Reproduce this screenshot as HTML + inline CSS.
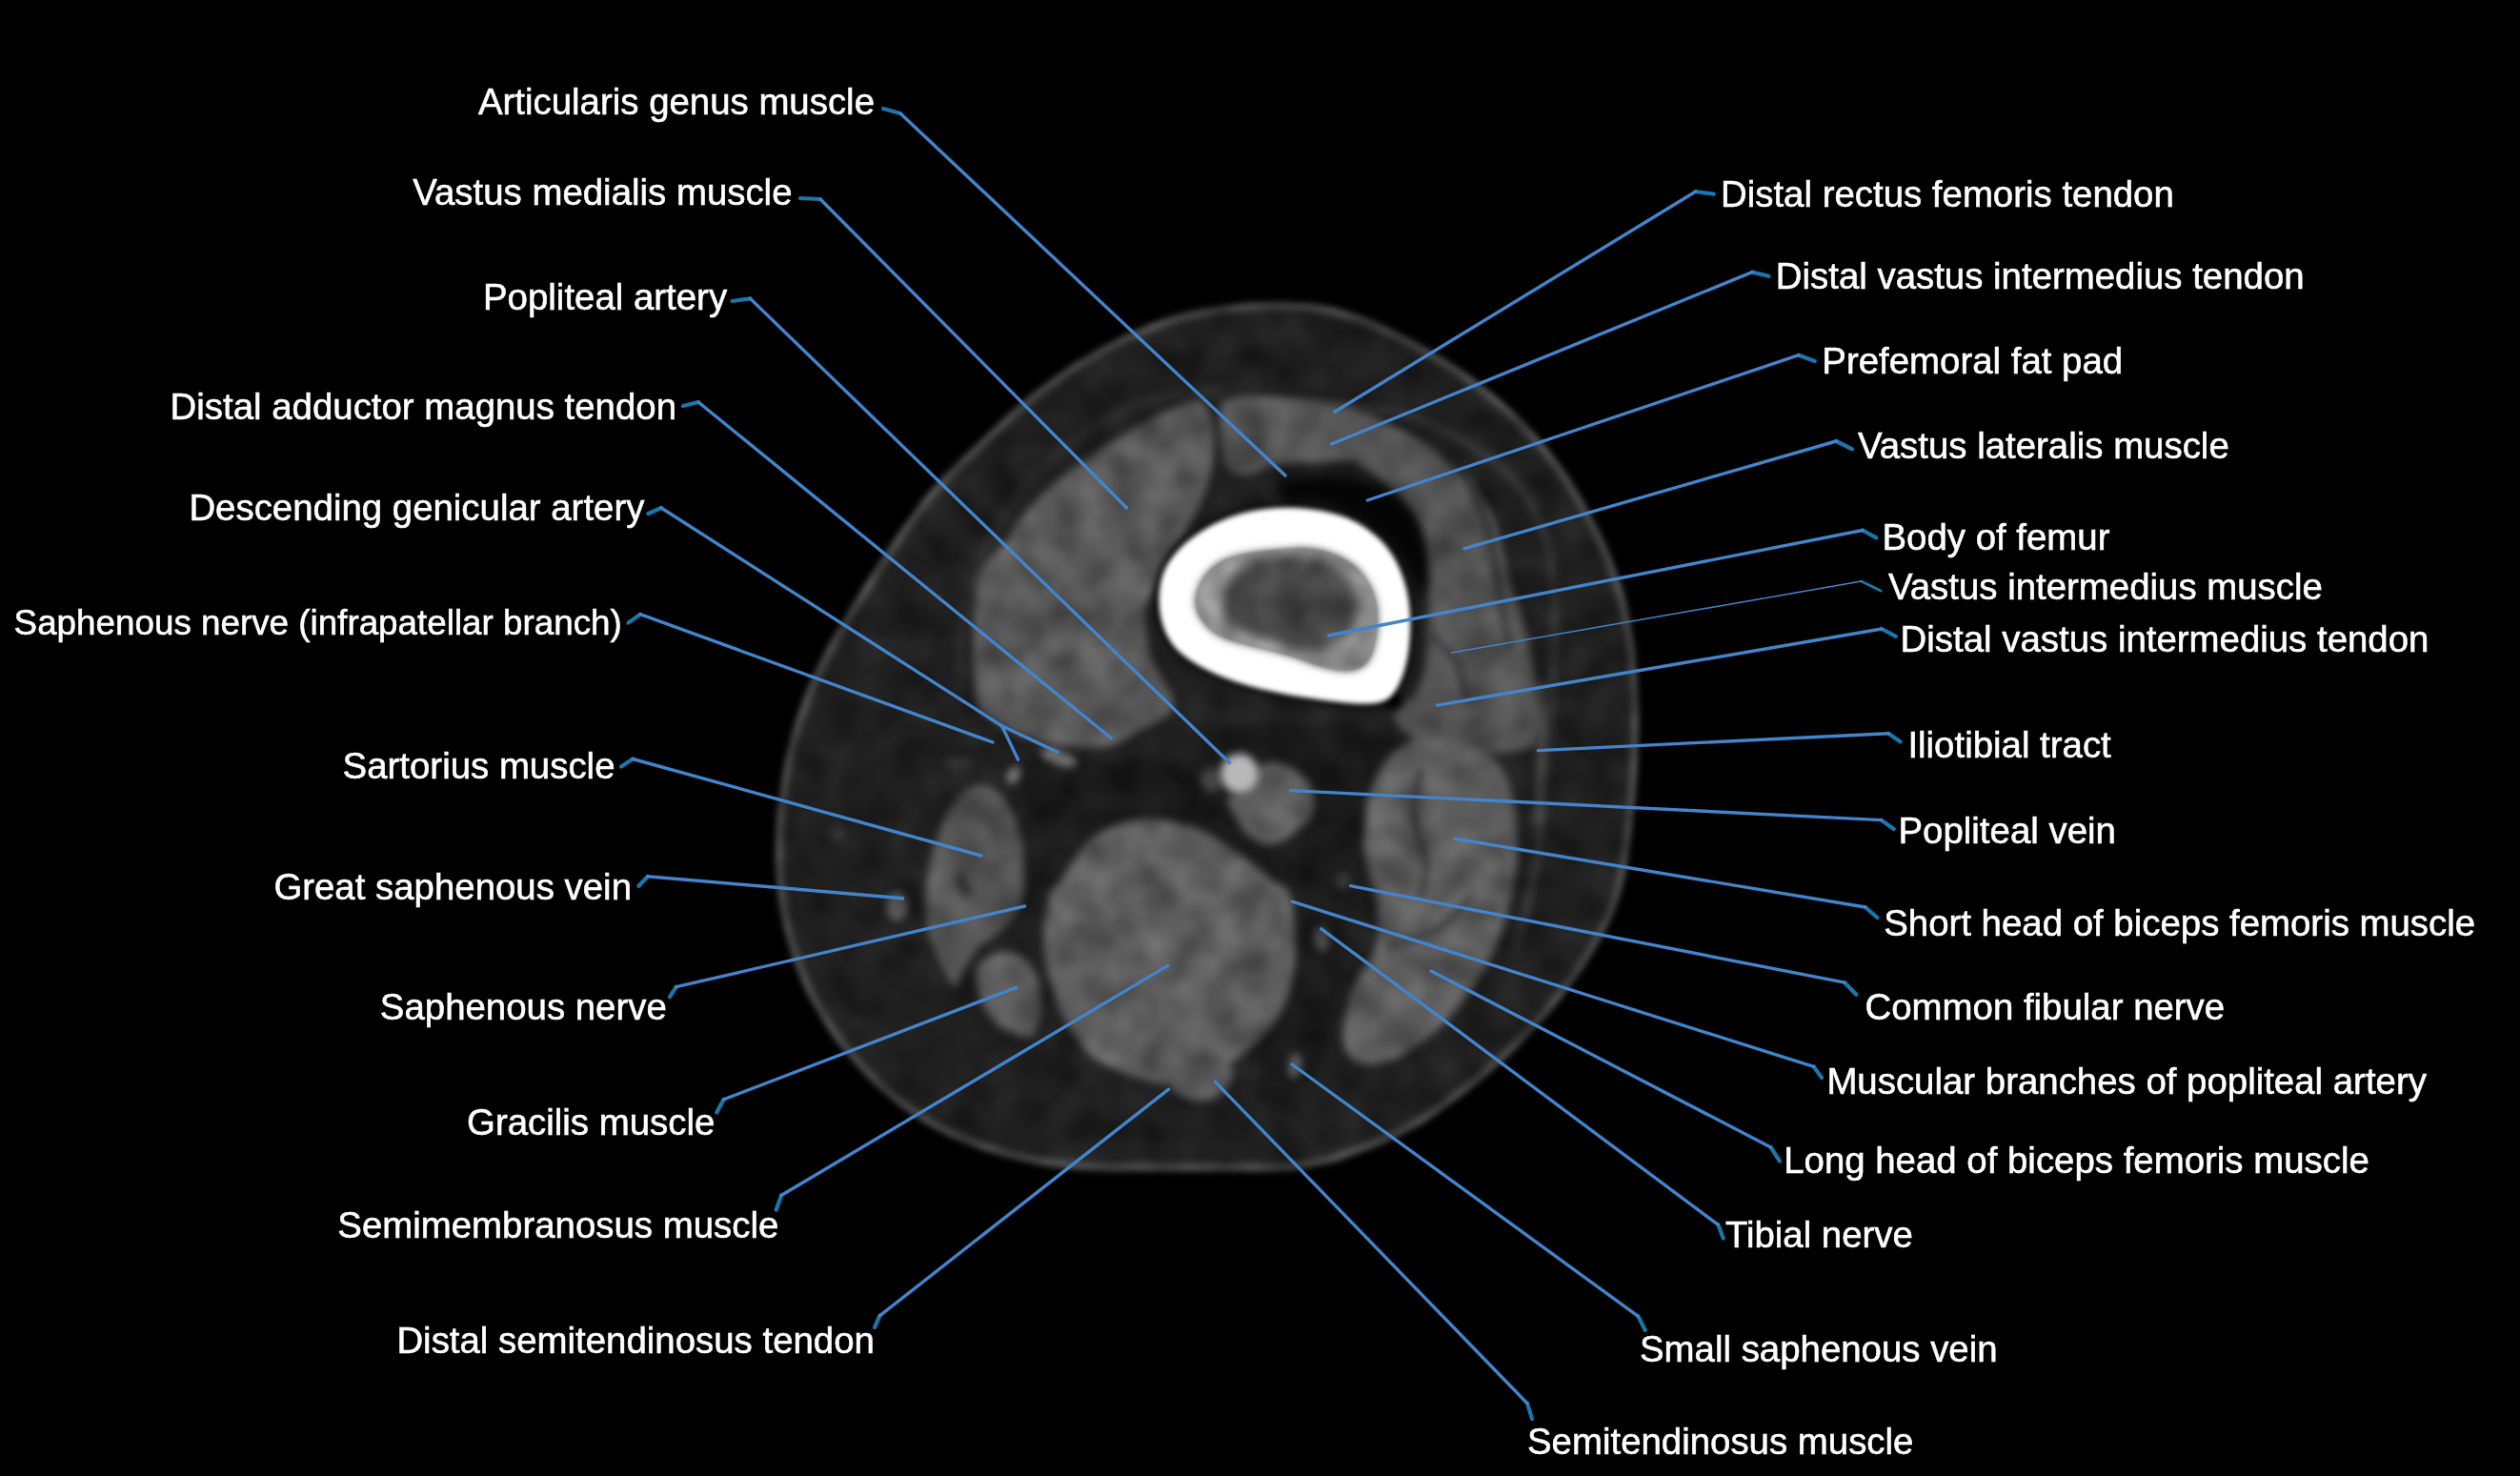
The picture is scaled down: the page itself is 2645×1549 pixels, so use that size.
<!DOCTYPE html>
<html><head><meta charset="utf-8"><title>Axial CT of distal thigh - labeled</title>
<style>
html,body{margin:0;padding:0;background:#000;}
body{width:2645px;height:1549px;position:relative;font-family:"Liberation Sans",sans-serif;}
svg{display:block;position:absolute;left:0;top:0;overflow:hidden;}
text{font-family:"Liberation Sans",sans-serif;fill:#fff;stroke:#fff;stroke-width:0.55px;}
</style></head>
<body>
<svg width="2645" height="1549" viewBox="0 0 2645 1549">
<defs>
<filter id="b1" filterUnits="userSpaceOnUse" x="700" y="250" width="1150" height="1050" color-interpolation-filters="sRGB"><feGaussianBlur stdDeviation="2.6"/></filter>
<filter id="b2" filterUnits="userSpaceOnUse" x="700" y="250" width="1150" height="1050" color-interpolation-filters="sRGB"><feGaussianBlur stdDeviation="4.5"/></filter>
<filter id="tex" filterUnits="userSpaceOnUse" x="750" y="280" width="1050" height="1000" color-interpolation-filters="sRGB">
<feTurbulence type="fractalNoise" baseFrequency="0.03" numOctaves="2" seed="7" result="n0"/>
<feColorMatrix in="n0" type="matrix" values="1 0 0 0 0  1 0 0 0 0  1 0 0 0 0  0 0 0 0 1" result="n1"/>
<feGaussianBlur in="n1" stdDeviation="4" result="n"/>
<feComposite in="SourceGraphic" in2="n" operator="arithmetic" k1="0.7" k2="0.65" k3="0.05" k4="-0.025" result="m"/>
<feComposite in="m" in2="SourceGraphic" operator="in"/>
</filter>
<filter id="tex2" filterUnits="userSpaceOnUse" x="1150" y="480" width="400" height="320" color-interpolation-filters="sRGB">
<feTurbulence type="fractalNoise" baseFrequency="0.032" numOctaves="2" seed="11" result="n0"/>
<feColorMatrix in="n0" type="matrix" values="1 0 0 0 0  1 0 0 0 0  1 0 0 0 0  0 0 0 0 1" result="n1"/>
<feGaussianBlur in="n1" stdDeviation="4" result="n"/>
<feComposite in="SourceGraphic" in2="n" operator="arithmetic" k1="1.0" k2="0.5" k3="0" k4="0" result="m"/>
<feComposite in="m" in2="SourceGraphic" operator="in"/>
</filter>
<filter id="b3" filterUnits="userSpaceOnUse" x="700" y="250" width="1150" height="1050" color-interpolation-filters="sRGB"><feGaussianBlur stdDeviation="6"/></filter>
<filter id="b4" filterUnits="userSpaceOnUse" x="700" y="250" width="1150" height="1050" color-interpolation-filters="sRGB"><feGaussianBlur stdDeviation="10"/></filter>
<clipPath id="bodyclip"><path d="M1324.6,304.8C1328.7,304.6 1332.9,304.5 1337.0,304.4C1341.1,304.3 1345.2,304.3 1349.4,304.3C1353.5,304.4 1357.6,304.6 1361.8,304.9C1365.9,305.2 1370.0,305.6 1374.2,306.1C1378.3,306.6 1382.4,307.1 1386.5,307.7C1390.6,308.4 1394.7,309.2 1398.8,310.1C1402.8,311.0 1406.9,312.0 1410.9,313.2C1414.9,314.3 1418.9,315.6 1422.8,316.9C1426.7,318.3 1430.6,319.7 1434.5,321.2C1438.4,322.7 1442.2,324.2 1446.0,325.8C1449.8,327.4 1453.5,329.0 1457.3,330.8C1461.0,332.5 1464.7,334.3 1468.4,336.1C1472.1,337.9 1475.7,339.7 1479.4,341.6C1483.0,343.5 1486.6,345.4 1490.2,347.3C1493.8,349.3 1497.4,351.3 1500.9,353.3C1504.5,355.3 1508.0,357.4 1511.5,359.5C1515.0,361.6 1518.5,363.7 1522.0,365.9C1525.5,368.1 1528.9,370.2 1532.4,372.5C1535.8,374.7 1539.2,377.0 1542.6,379.3C1545.9,381.7 1549.3,384.1 1552.6,386.5C1555.9,388.9 1559.2,391.4 1562.4,393.9C1565.7,396.4 1568.9,398.9 1572.1,401.5C1575.3,404.1 1578.4,406.7 1581.5,409.4C1584.7,412.1 1587.7,414.8 1590.8,417.6C1593.8,420.4 1596.8,423.1 1599.8,426.0C1602.8,428.8 1605.7,431.7 1608.6,434.7C1611.5,437.6 1614.3,440.6 1617.1,443.6C1619.9,446.6 1622.6,449.7 1625.3,452.8C1628.0,455.9 1630.7,459.0 1633.3,462.2C1635.9,465.4 1638.5,468.6 1641.0,471.9C1643.5,475.1 1646.0,478.5 1648.3,481.8C1650.7,485.2 1653.1,488.6 1655.4,492.0C1657.7,495.4 1659.9,498.8 1662.1,502.3C1664.3,505.8 1666.5,509.3 1668.6,512.8C1670.7,516.3 1672.7,519.9 1674.7,523.5C1676.7,527.0 1678.7,530.6 1680.6,534.3C1682.5,537.9 1684.4,541.5 1686.2,545.2C1688.1,548.8 1689.9,552.5 1691.6,556.2C1693.4,559.9 1695.2,563.6 1696.9,567.3C1698.6,571.1 1700.2,574.8 1701.8,578.7C1703.3,582.5 1704.9,586.3 1706.3,590.1C1707.7,594.0 1709.1,597.9 1710.5,601.8C1711.8,605.7 1713.1,609.6 1714.3,613.5C1715.5,617.5 1716.6,621.4 1717.7,625.4C1718.7,629.4 1719.7,633.4 1720.6,637.5C1721.5,641.5 1722.2,645.5 1723.0,649.6C1723.7,653.6 1724.5,657.7 1725.1,661.7C1725.8,665.8 1726.5,669.8 1727.1,673.9C1727.7,677.9 1728.2,682.0 1728.6,686.1C1729.1,690.1 1729.5,694.2 1729.8,698.3C1730.2,702.4 1730.5,706.5 1730.7,710.5C1731.0,714.6 1731.3,718.7 1731.5,722.8C1731.7,726.8 1731.9,730.9 1732.0,735.0C1732.2,739.1 1732.3,743.2 1732.3,747.2C1732.4,751.3 1732.3,755.4 1732.3,759.5C1732.3,763.6 1732.2,767.6 1732.2,771.7C1732.1,775.8 1732.0,779.8 1731.9,783.9C1731.8,787.9 1731.7,792.0 1731.5,796.1C1731.3,800.1 1731.1,804.2 1730.9,808.3C1730.6,812.3 1730.4,816.4 1730.1,820.4C1729.8,824.5 1729.5,828.5 1729.2,832.6C1728.9,836.6 1728.5,840.7 1728.2,844.7C1727.8,848.8 1727.4,852.8 1727.0,856.9C1726.6,860.9 1726.1,864.9 1725.6,869.0C1725.2,873.0 1724.7,877.0 1724.1,881.1C1723.6,885.1 1723.1,889.2 1722.5,893.2C1722.0,897.3 1721.4,901.3 1720.7,905.4C1720.0,909.4 1719.3,913.5 1718.5,917.5C1717.6,921.6 1716.8,925.6 1715.8,929.7C1714.9,933.7 1713.8,937.7 1712.6,941.7C1711.5,945.7 1710.2,949.7 1708.9,953.6C1707.5,957.6 1706.0,961.5 1704.4,965.3C1702.8,969.1 1701.0,972.9 1699.2,976.7C1697.4,980.4 1695.4,984.1 1693.5,987.7C1691.5,991.4 1689.4,995.0 1687.3,998.5C1685.2,1002.1 1683.0,1005.5 1680.8,1009.0C1678.6,1012.5 1676.4,1015.9 1674.2,1019.4C1671.9,1022.8 1669.6,1026.2 1667.3,1029.5C1665.0,1032.9 1662.6,1036.3 1660.2,1039.6C1657.8,1042.9 1655.4,1046.2 1652.9,1049.4C1650.4,1052.7 1647.9,1055.9 1645.4,1059.1C1642.8,1062.3 1640.2,1065.5 1637.6,1068.6C1635.0,1071.8 1632.3,1074.9 1629.6,1078.0C1626.9,1081.1 1624.2,1084.1 1621.4,1087.1C1618.6,1090.1 1615.8,1093.1 1612.9,1096.1C1610.1,1099.0 1607.2,1101.9 1604.3,1104.8C1601.5,1107.7 1598.5,1110.5 1595.6,1113.4C1592.6,1116.2 1589.7,1119.0 1586.7,1121.8C1583.7,1124.5 1580.6,1127.3 1577.6,1130.0C1574.5,1132.7 1571.4,1135.4 1568.3,1138.0C1565.2,1140.7 1562.1,1143.3 1559.0,1145.9C1555.8,1148.5 1552.6,1151.0 1549.4,1153.6C1546.2,1156.1 1543.0,1158.6 1539.7,1161.1C1536.5,1163.6 1533.3,1166.1 1530.0,1168.5C1526.7,1170.9 1523.4,1173.3 1520.0,1175.7C1516.6,1178.0 1513.2,1180.3 1509.8,1182.6C1506.3,1184.9 1502.9,1187.1 1499.4,1189.3C1495.8,1191.4 1492.3,1193.5 1488.7,1195.5C1485.1,1197.6 1481.4,1199.5 1477.8,1201.4C1474.1,1203.3 1470.4,1205.2 1466.6,1206.9C1462.9,1208.7 1459.1,1210.3 1455.4,1211.9C1451.6,1213.5 1447.7,1215.0 1443.9,1216.5C1440.1,1218.0 1436.3,1219.5 1432.5,1220.9C1428.7,1222.4 1424.9,1223.8 1421.0,1225.2C1417.2,1226.6 1413.3,1228.0 1409.3,1229.2C1405.4,1230.5 1401.5,1231.6 1397.5,1232.7C1393.5,1233.8 1389.5,1234.7 1385.4,1235.6C1381.4,1236.4 1377.4,1237.2 1373.3,1237.9C1369.3,1238.6 1365.2,1239.3 1361.1,1239.8C1357.0,1240.3 1352.9,1240.7 1348.8,1241.0C1344.6,1241.2 1340.5,1241.3 1336.4,1241.4C1332.2,1241.5 1328.1,1241.5 1324.1,1241.5C1320.0,1241.5 1315.9,1241.5 1311.9,1241.5C1307.8,1241.5 1303.8,1241.5 1299.8,1241.5C1295.8,1241.5 1291.8,1241.5 1287.7,1241.5C1283.7,1241.5 1279.7,1241.5 1275.7,1241.5C1271.6,1241.5 1267.6,1241.5 1263.6,1241.5C1259.6,1241.5 1255.5,1241.5 1251.5,1241.5C1247.5,1241.5 1243.5,1241.5 1239.4,1241.5C1235.4,1241.5 1231.4,1241.5 1227.4,1241.5C1223.3,1241.5 1219.3,1241.5 1215.3,1241.5C1211.3,1241.5 1207.2,1241.5 1203.2,1241.5C1199.2,1241.5 1195.1,1241.5 1191.1,1241.5C1187.1,1241.5 1183.0,1241.5 1179.0,1241.5C1174.9,1241.4 1170.9,1241.4 1166.8,1241.4C1162.7,1241.3 1158.6,1241.2 1154.6,1241.1C1150.5,1241.0 1146.4,1240.8 1142.3,1240.6C1138.2,1240.3 1134.2,1240.1 1130.1,1239.8C1126.0,1239.4 1121.9,1239.1 1117.8,1238.7C1113.7,1238.2 1109.6,1237.8 1105.5,1237.2C1101.4,1236.6 1097.4,1236.0 1093.3,1235.3C1089.3,1234.6 1085.2,1233.8 1081.2,1233.0C1077.2,1232.1 1073.2,1231.2 1069.2,1230.3C1065.1,1229.4 1061.1,1228.5 1057.2,1227.5C1053.2,1226.4 1049.2,1225.4 1045.3,1224.2C1041.3,1223.0 1037.4,1221.8 1033.5,1220.5C1029.6,1219.2 1025.7,1217.8 1021.8,1216.4C1017.9,1215.0 1014.0,1213.6 1010.2,1212.0C1006.4,1210.5 1002.6,1208.9 998.8,1207.2C995.0,1205.5 991.3,1203.7 987.6,1201.8C983.9,1199.9 980.2,1198.0 976.6,1196.0C973.0,1194.0 969.4,1191.9 965.8,1189.8C962.3,1187.6 958.8,1185.4 955.4,1183.1C951.9,1180.9 948.5,1178.5 945.1,1176.1C941.8,1173.7 938.5,1171.2 935.2,1168.7C931.9,1166.1 928.7,1163.5 925.5,1160.9C922.3,1158.3 919.2,1155.6 916.1,1152.8C913.1,1150.1 910.0,1147.3 907.0,1144.4C904.1,1141.6 901.1,1138.7 898.2,1135.7C895.4,1132.7 892.5,1129.7 889.8,1126.7C887.0,1123.6 884.3,1120.5 881.6,1117.3C878.9,1114.2 876.3,1111.0 873.8,1107.7C871.2,1104.4 868.8,1101.1 866.3,1097.8C863.9,1094.5 861.5,1091.1 859.2,1087.6C856.9,1084.2 854.7,1080.7 852.5,1077.2C850.3,1073.7 848.2,1070.2 846.2,1066.6C844.1,1063.0 842.1,1059.4 840.2,1055.7C838.3,1052.1 836.4,1048.4 834.6,1044.6C832.8,1040.9 831.1,1037.1 829.5,1033.3C827.9,1029.5 826.3,1025.7 824.8,1021.8C823.3,1018.0 821.8,1014.1 820.5,1010.2C819.1,1006.3 817.9,1002.4 816.6,998.5C815.4,994.5 814.2,990.5 813.1,986.5C812.0,982.5 811.0,978.5 810.0,974.5C809.1,970.5 808.3,966.4 807.6,962.3C806.8,958.3 806.2,954.2 805.6,950.1C805.0,946.0 804.4,941.9 804.0,937.8C803.5,933.8 803.2,929.6 802.8,925.5C802.5,921.4 802.2,917.3 802.0,913.2C801.8,909.0 801.8,904.9 801.7,900.8C801.7,896.7 801.8,892.6 801.9,888.5C802.0,884.4 802.1,880.3 802.3,876.2C802.4,872.1 802.6,868.0 802.9,864.0C803.1,859.9 803.4,855.8 803.7,851.7C804.0,847.6 804.4,843.5 804.9,839.4C805.3,835.3 805.9,831.2 806.5,827.2C807.1,823.1 807.7,819.1 808.4,815.0C809.1,811.0 809.8,807.0 810.5,802.9C811.3,798.9 812.1,794.9 813.0,790.8C813.8,786.8 814.7,782.8 815.8,778.8C816.8,774.8 817.9,770.9 819.0,766.9C820.2,763.0 821.4,759.0 822.7,755.1C823.9,751.2 825.2,747.3 826.5,743.5C827.9,739.6 829.2,735.7 830.6,731.8C832.1,728.0 833.6,724.1 835.1,720.3C836.7,716.5 838.4,712.8 840.1,709.0C841.7,705.3 843.5,701.6 845.3,697.9C847.0,694.2 848.8,690.5 850.7,686.9C852.5,683.2 854.4,679.6 856.3,676.0C858.2,672.3 860.2,668.8 862.2,665.2C864.2,661.6 866.3,658.1 868.3,654.6C870.4,651.1 872.5,647.6 874.6,644.1C876.7,640.7 878.7,637.2 880.9,633.7C883.0,630.3 885.1,626.8 887.2,623.4C889.3,619.9 891.5,616.5 893.6,613.1C895.8,609.7 897.9,606.3 900.1,602.9C902.3,599.4 904.4,596.0 906.6,592.6C908.8,589.2 910.9,585.8 913.1,582.4C915.3,579.0 917.5,575.6 919.7,572.2C921.9,568.8 924.1,565.4 926.4,562.0C928.6,558.7 930.9,555.3 933.2,551.9C935.5,548.6 937.8,545.3 940.2,541.9C942.6,538.6 944.9,535.3 947.3,532.0C949.7,528.7 952.1,525.3 954.6,522.0C957.1,518.8 959.7,515.6 962.3,512.4C965.0,509.2 967.7,506.1 970.4,503.1C973.2,500.0 976.0,497.0 978.8,494.0C981.6,491.1 984.5,488.1 987.3,485.2C990.2,482.3 993.1,479.5 996.0,476.6C998.9,473.8 1001.8,471.0 1004.8,468.2C1007.7,465.4 1010.7,462.7 1013.7,459.9C1016.6,457.2 1019.6,454.5 1022.5,451.7C1025.4,449.0 1028.4,446.2 1031.3,443.4C1034.2,440.7 1037.1,437.8 1040.0,435.1C1043.0,432.3 1045.9,429.5 1048.9,426.7C1051.9,424.0 1055.0,421.3 1058.1,418.6C1061.1,415.9 1064.2,413.2 1067.4,410.6C1070.5,407.9 1073.7,405.3 1076.9,402.8C1080.1,400.2 1083.3,397.7 1086.6,395.2C1089.9,392.8 1093.1,390.3 1096.5,387.9C1099.8,385.6 1103.2,383.2 1106.5,380.9C1109.9,378.6 1113.3,376.3 1116.7,374.0C1120.1,371.7 1123.5,369.5 1127.0,367.3C1130.5,365.2 1134.0,363.0 1137.5,360.9C1141.0,358.9 1144.5,356.8 1148.1,354.8C1151.7,352.7 1155.2,350.7 1158.9,348.8C1162.5,346.8 1166.1,344.9 1169.8,343.1C1173.5,341.3 1177.2,339.5 1181.0,337.8C1184.8,336.1 1188.5,334.5 1192.4,332.9C1196.2,331.3 1200.0,329.7 1203.8,328.3C1207.7,326.8 1211.5,325.4 1215.5,324.1C1219.4,322.7 1223.3,321.5 1227.3,320.3C1231.2,319.1 1235.2,318.0 1239.2,317.0C1243.2,315.9 1247.2,314.9 1251.2,314.0C1255.2,313.1 1259.3,312.2 1263.3,311.5C1267.4,310.7 1271.5,310.0 1275.5,309.4C1279.6,308.8 1283.7,308.2 1287.8,307.7C1291.9,307.2 1296.0,306.8 1300.0,306.4C1304.1,306.0 1308.2,305.7 1312.3,305.4C1316.4,305.2 1320.5,305.0 1324.6,304.8Z"/></clipPath>
</defs>
<rect width="2645" height="1549" fill="#000"/>
<g clip-path="url(#bodyclip)"><g filter="url(#tex)">
<g filter="url(#b2)"><path d="M1325.0,314.8C1329.0,314.6 1333.1,314.5 1337.1,314.4C1341.1,314.3 1345.1,314.3 1349.1,314.3C1353.1,314.4 1357.1,314.6 1361.1,314.9C1365.1,315.2 1369.1,315.6 1373.0,316.0C1377.0,316.5 1380.9,317.0 1384.9,317.6C1388.8,318.2 1392.7,319.0 1396.6,319.8C1400.5,320.7 1404.4,321.7 1408.2,322.8C1412.0,323.9 1415.8,325.1 1419.6,326.4C1423.4,327.7 1427.2,329.1 1430.9,330.5C1434.7,332.0 1438.4,333.5 1442.1,335.0C1445.8,336.6 1449.5,338.2 1453.1,339.9C1456.8,341.5 1460.4,343.3 1464.0,345.1C1467.6,346.8 1471.2,348.6 1474.8,350.5C1478.4,352.3 1481.9,354.2 1485.5,356.1C1489.0,358.0 1492.5,360.0 1496.0,362.0C1499.5,364.0 1502.9,366.1 1506.4,368.1C1509.8,370.2 1513.3,372.3 1516.7,374.4C1520.1,376.5 1523.5,378.6 1526.9,380.8C1530.2,383.0 1533.6,385.3 1536.9,387.6C1540.2,389.8 1543.4,392.2 1546.7,394.6C1549.9,396.9 1553.2,399.3 1556.3,401.8C1559.5,404.2 1562.7,406.7 1565.8,409.2C1568.9,411.8 1572.0,414.4 1575.0,417.0C1578.1,419.6 1581.1,422.3 1584.0,425.0C1587.0,427.7 1590.0,430.4 1592.9,433.2C1595.8,436.0 1598.6,438.8 1601.4,441.7C1604.3,444.5 1607.0,447.4 1609.7,450.4C1612.5,453.3 1615.1,456.3 1617.8,459.4C1620.4,462.4 1623.0,465.4 1625.6,468.5C1628.1,471.6 1630.6,474.8 1633.1,478.0C1635.5,481.1 1637.9,484.4 1640.2,487.6C1642.6,490.9 1644.8,494.2 1647.1,497.6C1649.3,500.9 1651.5,504.3 1653.7,507.7C1655.8,511.0 1657.9,514.5 1660.0,517.9C1662.0,521.4 1664.0,524.8 1666.0,528.4C1668.0,531.9 1669.9,535.4 1671.7,539.0C1673.6,542.5 1675.5,546.1 1677.3,549.7C1679.1,553.3 1680.9,556.9 1682.6,560.5C1684.4,564.1 1686.1,567.7 1687.8,571.4C1689.4,575.1 1691.0,578.8 1692.5,582.5C1694.1,586.2 1695.5,589.9 1696.9,593.7C1698.3,597.4 1699.7,601.2 1701.0,605.0C1702.3,608.8 1703.5,612.6 1704.7,616.4C1705.9,620.2 1707.0,624.1 1708.0,628.0C1709.0,631.8 1710.0,635.7 1710.8,639.7C1711.7,643.6 1712.4,647.5 1713.2,651.5C1713.9,655.4 1714.6,659.4 1715.3,663.4C1716.0,667.3 1716.6,671.3 1717.2,675.3C1717.7,679.2 1718.3,683.2 1718.7,687.2C1719.2,691.2 1719.5,695.2 1719.9,699.2C1720.2,703.2 1720.5,707.2 1720.8,711.2C1721.0,715.2 1721.3,719.3 1721.5,723.3C1721.7,727.3 1721.9,731.3 1722.1,735.3C1722.2,739.3 1722.3,743.4 1722.3,747.4C1722.4,751.4 1722.3,755.4 1722.3,759.5C1722.3,763.5 1722.2,767.5 1722.2,771.5C1722.1,775.5 1722.0,779.6 1721.9,783.6C1721.8,787.6 1721.7,791.6 1721.5,795.6C1721.3,799.7 1721.1,803.7 1720.9,807.7C1720.7,811.7 1720.4,815.7 1720.1,819.7C1719.8,823.8 1719.5,827.8 1719.2,831.8C1718.9,835.8 1718.6,839.8 1718.2,843.8C1717.8,847.8 1717.5,851.8 1717.0,855.8C1716.6,859.8 1716.2,863.8 1715.7,867.8C1715.2,871.8 1714.7,875.8 1714.2,879.8C1713.7,883.8 1713.2,887.8 1712.7,891.8C1712.1,895.8 1711.5,899.7 1710.8,903.7C1710.2,907.7 1709.4,911.6 1708.7,915.5C1707.9,919.5 1707.1,923.4 1706.1,927.3C1705.2,931.2 1704.2,935.0 1703.1,938.9C1701.9,942.7 1700.8,946.5 1699.4,950.3C1698.1,954.0 1696.7,957.8 1695.2,961.4C1693.6,965.1 1691.9,968.7 1690.2,972.3C1688.4,975.9 1686.6,979.5 1684.7,983.0C1682.7,986.5 1680.8,990.0 1678.7,993.5C1676.7,996.9 1674.5,1000.3 1672.4,1003.7C1670.2,1007.1 1668.0,1010.5 1665.8,1013.9C1663.6,1017.2 1661.4,1020.6 1659.1,1023.9C1656.8,1027.2 1654.5,1030.4 1652.1,1033.7C1649.7,1036.9 1647.4,1040.2 1644.9,1043.4C1642.5,1046.6 1640.0,1049.7 1637.5,1052.9C1635.0,1056.0 1632.5,1059.1 1629.9,1062.2C1627.3,1065.3 1624.7,1068.4 1622.1,1071.4C1619.4,1074.4 1616.7,1077.4 1614.0,1080.3C1611.3,1083.3 1608.5,1086.2 1605.7,1089.1C1602.9,1092.0 1600.1,1094.9 1597.3,1097.7C1594.4,1100.6 1591.6,1103.4 1588.7,1106.2C1585.8,1108.9 1582.8,1111.7 1579.9,1114.4C1576.9,1117.1 1573.9,1119.8 1570.9,1122.5C1567.9,1125.2 1564.9,1127.8 1561.8,1130.4C1558.8,1133.0 1555.7,1135.6 1552.6,1138.2C1549.5,1140.7 1546.4,1143.3 1543.2,1145.7C1540.0,1148.2 1536.9,1150.7 1533.7,1153.2C1530.5,1155.6 1527.3,1158.1 1524.1,1160.4C1520.8,1162.8 1517.6,1165.2 1514.3,1167.5C1511.0,1169.8 1507.6,1172.0 1504.3,1174.2C1500.9,1176.5 1497.6,1178.6 1494.2,1180.7C1490.7,1182.8 1487.3,1184.9 1483.8,1186.8C1480.3,1188.8 1476.7,1190.7 1473.2,1192.5C1469.6,1194.4 1466.0,1196.2 1462.4,1197.9C1458.8,1199.6 1455.1,1201.2 1451.4,1202.7C1447.7,1204.3 1444.0,1205.7 1440.2,1207.2C1436.5,1208.7 1432.8,1210.1 1429.0,1211.6C1425.3,1213.0 1421.5,1214.4 1417.7,1215.8C1414.0,1217.1 1410.2,1218.5 1406.4,1219.7C1402.6,1220.9 1398.7,1222.0 1394.9,1223.0C1391.0,1224.1 1387.2,1225.0 1383.3,1225.8C1379.4,1226.6 1375.5,1227.4 1371.6,1228.1C1367.7,1228.8 1363.9,1229.4 1359.9,1229.9C1356.0,1230.4 1352.0,1230.7 1348.0,1231.0C1344.1,1231.2 1340.0,1231.3 1336.0,1231.4C1332.0,1231.5 1328.0,1231.5 1324.0,1231.5C1319.9,1231.5 1315.9,1231.5 1311.9,1231.5C1307.9,1231.5 1303.8,1231.5 1299.8,1231.5C1295.8,1231.5 1291.8,1231.5 1287.7,1231.5C1283.7,1231.5 1279.7,1231.5 1275.7,1231.5C1271.6,1231.5 1267.6,1231.5 1263.6,1231.5C1259.6,1231.5 1255.5,1231.5 1251.5,1231.5C1247.5,1231.5 1243.5,1231.5 1239.4,1231.5C1235.4,1231.5 1231.4,1231.5 1227.4,1231.5C1223.3,1231.5 1219.3,1231.5 1215.3,1231.5C1211.3,1231.5 1207.2,1231.5 1203.2,1231.5C1199.2,1231.5 1195.2,1231.5 1191.1,1231.5C1187.1,1231.5 1183.1,1231.5 1179.1,1231.5C1175.0,1231.4 1171.0,1231.4 1167.0,1231.4C1163.0,1231.3 1158.9,1231.3 1154.9,1231.1C1150.9,1231.0 1146.9,1230.8 1142.9,1230.6C1138.9,1230.4 1134.9,1230.1 1130.9,1229.8C1126.9,1229.5 1122.9,1229.1 1118.9,1228.7C1114.9,1228.3 1110.9,1227.8 1106.9,1227.3C1102.9,1226.8 1099.0,1226.1 1095.0,1225.4C1091.1,1224.8 1087.1,1224.0 1083.2,1223.2C1079.2,1222.4 1075.3,1221.5 1071.4,1220.6C1067.5,1219.7 1063.6,1218.8 1059.7,1217.8C1055.8,1216.8 1051.9,1215.7 1048.1,1214.6C1044.2,1213.5 1040.4,1212.3 1036.6,1211.0C1032.8,1209.7 1029.0,1208.4 1025.2,1207.0C1021.4,1205.6 1017.7,1204.3 1014.0,1202.8C1010.2,1201.3 1006.5,1199.7 1002.9,1198.0C999.2,1196.4 995.6,1194.7 992.1,1192.9C988.5,1191.1 984.9,1189.2 981.4,1187.2C977.9,1185.3 974.4,1183.3 971.0,1181.2C967.6,1179.1 964.2,1177.0 960.9,1174.8C957.5,1172.6 954.2,1170.3 950.9,1168.0C947.7,1165.6 944.5,1163.2 941.3,1160.8C938.1,1158.3 935.0,1155.8 931.9,1153.2C928.8,1150.7 925.8,1148.0 922.8,1145.4C919.8,1142.7 916.8,1140.0 914.0,1137.2C911.1,1134.4 908.2,1131.6 905.4,1128.7C902.6,1125.8 899.9,1122.9 897.2,1120.0C894.5,1117.0 891.8,1114.0 889.2,1110.9C886.7,1107.8 884.1,1104.7 881.7,1101.5C879.2,1098.4 876.8,1095.2 874.4,1091.9C872.1,1088.7 869.8,1085.4 867.5,1082.1C865.3,1078.7 863.1,1075.4 861.0,1072.0C858.9,1068.5 856.8,1065.1 854.8,1061.6C852.8,1058.1 850.9,1054.6 849.0,1051.1C847.2,1047.5 845.4,1043.9 843.6,1040.3C841.9,1036.7 840.3,1033.0 838.7,1029.3C837.1,1025.7 835.6,1022.0 834.1,1018.2C832.6,1014.5 831.2,1010.7 829.9,1006.9C828.6,1003.2 827.4,999.3 826.2,995.5C825.0,991.7 823.9,987.8 822.8,983.9C821.7,980.1 820.7,976.2 819.8,972.3C818.9,968.4 818.1,964.4 817.4,960.5C816.7,956.6 816.0,952.6 815.5,948.6C814.9,944.7 814.4,940.7 813.9,936.7C813.5,932.7 813.1,928.7 812.8,924.7C812.5,920.7 812.2,916.7 812.0,912.7C811.8,908.7 811.8,904.7 811.7,900.7C811.7,896.7 811.8,892.7 811.9,888.6C812.0,884.6 812.1,880.6 812.3,876.6C812.4,872.6 812.6,868.6 812.9,864.6C813.1,860.5 813.3,856.5 813.6,852.5C814.0,848.5 814.3,844.5 814.8,840.5C815.3,836.5 815.8,832.6 816.4,828.6C817.0,824.6 817.6,820.6 818.3,816.7C818.9,812.7 819.6,808.8 820.4,804.8C821.1,800.9 821.9,796.9 822.7,793.0C823.6,789.1 824.5,785.2 825.4,781.3C826.4,777.4 827.5,773.5 828.7,769.7C829.8,765.8 831.0,762.0 832.2,758.2C833.4,754.3 834.7,750.5 836.0,746.7C837.3,742.9 838.6,739.1 840.0,735.4C841.4,731.6 842.9,727.9 844.4,724.1C845.9,720.4 847.5,716.8 849.2,713.1C850.8,709.4 852.6,705.8 854.3,702.2C856.0,698.6 857.8,695.0 859.6,691.4C861.4,687.8 863.2,684.2 865.1,680.7C867.0,677.1 868.9,673.6 870.9,670.1C872.9,666.6 874.9,663.1 877.0,659.6C879.0,656.2 881.1,652.7 883.1,649.3C885.2,645.8 887.3,642.4 889.4,638.9C891.5,635.5 893.6,632.1 895.7,628.7C897.8,625.2 900.0,621.8 902.1,618.4C904.2,615.0 906.4,611.6 908.6,608.2C910.7,604.8 912.9,601.4 915.0,598.0C917.2,594.6 919.4,591.2 921.5,587.8C923.7,584.5 925.9,581.1 928.1,577.7C930.3,574.3 932.5,570.9 934.7,567.6C936.9,564.3 939.2,560.9 941.5,557.6C943.7,554.3 946.0,551.0 948.4,547.7C950.7,544.4 953.0,541.2 955.4,537.9C957.8,534.7 960.1,531.4 962.5,528.2C965.0,525.0 967.5,521.9 970.0,518.8C972.6,515.7 975.2,512.7 977.9,509.7C980.6,506.7 983.3,503.8 986.1,500.9C988.8,498.0 991.6,495.1 994.4,492.2C997.3,489.4 1000.1,486.6 1003.0,483.8C1005.8,481.0 1008.7,478.2 1011.7,475.4C1014.6,472.7 1017.6,470.0 1020.5,467.2C1023.5,464.5 1026.4,461.8 1029.3,459.0C1032.3,456.2 1035.2,453.5 1038.1,450.7C1041.0,447.9 1043.9,445.1 1046.9,442.4C1049.8,439.6 1052.7,436.9 1055.7,434.1C1058.6,431.4 1061.6,428.7 1064.6,426.1C1067.7,423.4 1070.7,420.8 1073.8,418.2C1076.9,415.7 1080.0,413.1 1083.1,410.6C1086.3,408.1 1089.4,405.6 1092.6,403.2C1095.8,400.8 1099.1,398.4 1102.3,396.1C1105.6,393.7 1108.9,391.4 1112.2,389.1C1115.5,386.8 1118.8,384.6 1122.2,382.3C1125.5,380.1 1128.9,377.9 1132.3,375.8C1135.7,373.7 1139.2,371.6 1142.6,369.5C1146.1,367.5 1149.5,365.5 1153.0,363.5C1156.5,361.5 1160.0,359.5 1163.6,357.6C1167.1,355.7 1170.7,353.8 1174.3,352.1C1177.9,350.3 1181.5,348.6 1185.1,346.9C1188.8,345.3 1192.5,343.7 1196.2,342.1C1199.9,340.6 1203.6,339.1 1207.4,337.6C1211.1,336.2 1214.9,334.8 1218.7,333.5C1222.5,332.2 1226.3,331.0 1230.1,329.9C1234.0,328.7 1237.9,327.6 1241.7,326.6C1245.6,325.6 1249.5,324.6 1253.4,323.7C1257.3,322.8 1261.3,322.0 1265.2,321.3C1269.1,320.5 1273.1,319.9 1277.1,319.3C1281.0,318.7 1285.0,318.1 1289.0,317.6C1293.0,317.2 1297.0,316.7 1301.0,316.4C1305.0,316.0 1309.0,315.7 1313.0,315.4C1317.0,315.1 1321.0,315.0 1325.0,314.8Z" fill="#1f1f1f" />
<path d="M1325.2,319.8C1329.2,319.6 1333.2,319.5 1337.1,319.4C1341.1,319.3 1345.1,319.3 1349.0,319.3C1352.9,319.4 1356.9,319.6 1360.8,319.9C1364.7,320.1 1368.6,320.5 1372.4,321.0C1376.3,321.4 1380.2,321.9 1384.1,322.5C1387.9,323.2 1391.7,323.9 1395.5,324.7C1399.3,325.6 1403.1,326.5 1406.8,327.6C1410.6,328.7 1414.3,329.9 1418.0,331.2C1421.8,332.4 1425.5,333.8 1429.2,335.2C1432.9,336.6 1436.5,338.1 1440.2,339.6C1443.8,341.2 1447.5,342.7 1451.1,344.4C1454.7,346.1 1458.2,347.8 1461.8,349.6C1465.4,351.3 1469.0,353.1 1472.5,354.9C1476.0,356.8 1479.6,358.6 1483.1,360.5C1486.6,362.4 1490.0,364.4 1493.5,366.3C1497.0,368.3 1500.4,370.4 1503.8,372.4C1507.2,374.5 1510.7,376.5 1514.0,378.6C1517.4,380.7 1520.8,382.8 1524.1,385.0C1527.5,387.2 1530.8,389.4 1534.0,391.7C1537.3,393.9 1540.5,396.3 1543.7,398.6C1546.9,400.9 1550.1,403.3 1553.3,405.7C1556.4,408.2 1559.6,410.6 1562.6,413.1C1565.7,415.6 1568.8,418.2 1571.8,420.8C1574.8,423.4 1577.7,426.0 1580.7,428.7C1583.6,431.4 1586.5,434.1 1589.4,436.8C1592.3,439.5 1595.1,442.3 1597.9,445.2C1600.7,448.0 1603.4,450.9 1606.1,453.8C1608.8,456.7 1611.4,459.7 1614.0,462.6C1616.6,465.6 1619.2,468.6 1621.7,471.7C1624.2,474.8 1626.7,477.9 1629.1,481.0C1631.5,484.1 1633.9,487.3 1636.2,490.6C1638.5,493.8 1640.7,497.1 1642.9,500.4C1645.1,503.7 1647.3,507.0 1649.4,510.3C1651.6,513.7 1653.6,517.1 1655.7,520.5C1657.7,523.9 1659.7,527.3 1661.6,530.8C1663.6,534.3 1665.5,537.8 1667.3,541.3C1669.2,544.8 1671.0,548.4 1672.8,551.9C1674.6,555.5 1676.4,559.1 1678.1,562.6C1679.8,566.2 1681.6,569.8 1683.2,573.4C1684.8,577.1 1686.4,580.7 1687.9,584.4C1689.4,588.0 1690.9,591.7 1692.3,595.4C1693.6,599.1 1695.0,602.8 1696.2,606.6C1697.5,610.3 1698.7,614.1 1699.9,617.9C1701.1,621.6 1702.2,625.4 1703.2,629.2C1704.2,633.1 1705.1,636.9 1706.0,640.8C1706.8,644.6 1707.5,648.5 1708.3,652.4C1709.0,656.3 1709.7,660.3 1710.3,664.2C1711.0,668.1 1711.7,672.0 1712.2,676.0C1712.8,679.9 1713.3,683.8 1713.7,687.8C1714.2,691.7 1714.6,695.7 1714.9,699.7C1715.2,703.6 1715.5,707.6 1715.8,711.6C1716.1,715.6 1716.3,719.5 1716.5,723.5C1716.7,727.5 1716.9,731.5 1717.1,735.5C1717.2,739.5 1717.3,743.5 1717.3,747.5C1717.4,751.5 1717.3,755.4 1717.3,759.4C1717.3,763.4 1717.2,767.4 1717.2,771.4C1717.1,775.4 1717.0,779.4 1716.9,783.4C1716.8,787.4 1716.7,791.4 1716.5,795.4C1716.4,799.4 1716.1,803.4 1715.9,807.4C1715.7,811.4 1715.4,815.4 1715.1,819.4C1714.8,823.4 1714.6,827.4 1714.2,831.4C1713.9,835.4 1713.6,839.4 1713.2,843.4C1712.9,847.3 1712.5,851.3 1712.1,855.3C1711.6,859.3 1711.2,863.3 1710.7,867.2C1710.3,871.2 1709.8,875.2 1709.3,879.2C1708.8,883.1 1708.3,887.1 1707.7,891.0C1707.2,895.0 1706.6,898.9 1705.9,902.9C1705.3,906.8 1704.5,910.7 1703.8,914.5C1703.0,918.4 1702.2,922.3 1701.3,926.1C1700.4,929.9 1699.3,933.7 1698.3,937.5C1697.2,941.2 1696.0,944.9 1694.7,948.6C1693.4,952.3 1692.0,955.9 1690.5,959.5C1689.0,963.1 1687.4,966.7 1685.7,970.2C1683.9,973.7 1682.1,977.2 1680.3,980.6C1678.4,984.1 1676.4,987.5 1674.4,990.9C1672.4,994.3 1670.2,997.7 1668.1,1001.1C1666.0,1004.4 1663.8,1007.8 1661.7,1011.1C1659.5,1014.4 1657.2,1017.7 1655.0,1021.0C1652.7,1024.3 1650.4,1027.5 1648.1,1030.8C1645.7,1034.0 1643.4,1037.2 1640.9,1040.3C1638.5,1043.5 1636.1,1046.7 1633.6,1049.8C1631.2,1052.9 1628.6,1056.0 1626.1,1059.0C1623.5,1062.1 1621.0,1065.1 1618.3,1068.1C1615.7,1071.1 1613.0,1074.0 1610.3,1077.0C1607.6,1079.9 1604.9,1082.8 1602.1,1085.7C1599.4,1088.5 1596.6,1091.4 1593.8,1094.2C1590.9,1097.0 1588.1,1099.8 1585.2,1102.5C1582.3,1105.3 1579.4,1108.0 1576.5,1110.7C1573.6,1113.4 1570.6,1116.1 1567.6,1118.8C1564.6,1121.4 1561.6,1124.0 1558.6,1126.6C1555.6,1129.2 1552.5,1131.8 1549.4,1134.3C1546.3,1136.9 1543.2,1139.4 1540.1,1141.8C1537.0,1144.3 1533.8,1146.8 1530.6,1149.2C1527.5,1151.6 1524.3,1154.0 1521.1,1156.4C1517.9,1158.8 1514.7,1161.1 1511.4,1163.4C1508.1,1165.6 1504.9,1167.9 1501.6,1170.1C1498.3,1172.2 1494.9,1174.4 1491.6,1176.5C1488.2,1178.5 1484.8,1180.5 1481.3,1182.5C1477.9,1184.4 1474.4,1186.3 1470.9,1188.1C1467.4,1189.9 1463.9,1191.7 1460.3,1193.4C1456.7,1195.0 1453.1,1196.6 1449.4,1198.1C1445.8,1199.7 1442.1,1201.1 1438.4,1202.6C1434.7,1204.0 1431.0,1205.5 1427.2,1206.9C1423.5,1208.3 1419.8,1209.7 1416.1,1211.0C1412.4,1212.4 1408.6,1213.7 1404.9,1214.9C1401.1,1216.1 1397.4,1217.2 1393.6,1218.2C1389.8,1219.2 1386.0,1220.1 1382.2,1220.9C1378.4,1221.7 1374.6,1222.5 1370.8,1223.1C1367.0,1223.8 1363.2,1224.4 1359.3,1224.9C1355.5,1225.4 1351.6,1225.7 1347.7,1226.0C1343.8,1226.3 1339.8,1226.3 1335.9,1226.4C1331.9,1226.5 1327.9,1226.5 1323.9,1226.5C1319.9,1226.5 1315.9,1226.5 1311.9,1226.5C1307.9,1226.5 1303.8,1226.5 1299.8,1226.5C1295.8,1226.5 1291.8,1226.5 1287.7,1226.5C1283.7,1226.5 1279.7,1226.5 1275.7,1226.5C1271.6,1226.5 1267.6,1226.5 1263.6,1226.5C1259.6,1226.5 1255.5,1226.5 1251.5,1226.5C1247.5,1226.5 1243.5,1226.5 1239.4,1226.5C1235.4,1226.5 1231.4,1226.5 1227.4,1226.5C1223.3,1226.5 1219.3,1226.5 1215.3,1226.5C1211.3,1226.5 1207.2,1226.5 1203.2,1226.5C1199.2,1226.5 1195.2,1226.5 1191.1,1226.5C1187.1,1226.5 1183.1,1226.5 1179.1,1226.5C1175.1,1226.4 1171.1,1226.4 1167.1,1226.4C1163.1,1226.3 1159.1,1226.3 1155.1,1226.1C1151.1,1226.0 1147.1,1225.8 1143.2,1225.6C1139.2,1225.4 1135.2,1225.1 1131.3,1224.8C1127.3,1224.5 1123.3,1224.1 1119.4,1223.7C1115.5,1223.3 1111.5,1222.9 1107.6,1222.3C1103.7,1221.8 1099.8,1221.2 1095.9,1220.5C1091.9,1219.8 1088.1,1219.1 1084.2,1218.3C1080.3,1217.5 1076.4,1216.6 1072.5,1215.7C1068.7,1214.8 1064.8,1213.9 1060.9,1213.0C1057.1,1212.0 1053.3,1210.9 1049.5,1209.8C1045.7,1208.7 1041.9,1207.5 1038.1,1206.2C1034.4,1205.0 1030.7,1203.7 1026.9,1202.3C1023.2,1201.0 1019.5,1199.6 1015.8,1198.1C1012.2,1196.7 1008.5,1195.1 1005.0,1193.5C1001.4,1191.9 997.8,1190.2 994.3,1188.4C990.8,1186.6 987.3,1184.8 983.8,1182.9C980.4,1180.9 977.0,1179.0 973.6,1176.9C970.2,1174.9 966.9,1172.8 963.6,1170.6C960.3,1168.4 957.1,1166.2 953.9,1163.9C950.6,1161.6 947.5,1159.2 944.4,1156.8C941.2,1154.4 938.2,1151.9 935.1,1149.4C932.1,1146.8 929.1,1144.3 926.1,1141.6C923.2,1139.0 920.3,1136.3 917.4,1133.6C914.6,1130.9 911.7,1128.1 909.0,1125.2C906.2,1122.4 903.5,1119.5 900.9,1116.6C898.2,1113.7 895.6,1110.7 893.1,1107.7C890.5,1104.6 888.0,1101.6 885.6,1098.5C883.2,1095.3 880.8,1092.2 878.5,1089.0C876.2,1085.8 873.9,1082.6 871.7,1079.3C869.5,1076.0 867.3,1072.7 865.2,1069.3C863.2,1066.0 861.1,1062.6 859.2,1059.1C857.2,1055.7 855.3,1052.3 853.5,1048.8C851.6,1045.3 849.8,1041.7 848.1,1038.2C846.4,1034.6 844.8,1031.0 843.3,1027.4C841.7,1023.7 840.2,1020.1 838.8,1016.4C837.3,1012.7 835.9,1009.0 834.6,1005.3C833.3,1001.6 832.1,997.8 831.0,994.0C829.8,990.2 828.7,986.4 827.6,982.6C826.6,978.8 825.5,975.0 824.7,971.2C823.8,967.3 823.0,963.4 822.3,959.6C821.6,955.7 821.0,951.8 820.4,947.9C819.8,944.0 819.3,940.1 818.9,936.2C818.5,932.2 818.1,928.3 817.8,924.4C817.5,920.4 817.2,916.5 817.0,912.5C816.8,908.6 816.8,904.6 816.7,900.6C816.7,896.7 816.8,892.7 816.9,888.7C817.0,884.8 817.1,880.8 817.3,876.8C817.4,872.8 817.6,868.8 817.8,864.9C818.1,860.9 818.3,856.9 818.6,853.0C819.0,849.0 819.3,845.0 819.8,841.1C820.2,837.1 820.8,833.2 821.4,829.3C821.9,825.3 822.5,821.4 823.2,817.5C823.9,813.6 824.5,809.7 825.3,805.8C826.0,801.9 826.8,798.0 827.6,794.1C828.4,790.2 829.3,786.4 830.3,782.5C831.3,778.7 832.4,774.9 833.5,771.1C834.6,767.2 835.8,763.5 837.0,759.7C838.2,755.9 839.4,752.1 840.7,748.4C842.0,744.6 843.3,740.9 844.7,737.1C846.1,733.4 847.5,729.7 849.0,726.0C850.5,722.4 852.1,718.8 853.8,715.1C855.4,711.5 857.1,707.9 858.8,704.3C860.5,700.8 862.3,697.2 864.1,693.6C865.9,690.1 867.7,686.5 869.5,683.0C871.4,679.5 873.3,676.0 875.3,672.5C877.2,669.0 879.3,665.6 881.3,662.2C883.3,658.7 885.4,655.3 887.4,651.8C889.5,648.4 891.6,645.0 893.7,641.5C895.7,638.1 897.8,634.7 900.0,631.3C902.1,627.9 904.2,624.5 906.3,621.1C908.5,617.7 910.6,614.3 912.8,610.9C914.9,607.5 917.1,604.1 919.3,600.7C921.4,597.3 923.6,593.9 925.7,590.5C927.9,587.2 930.1,583.8 932.2,580.4C934.4,577.1 936.6,573.7 938.8,570.4C941.1,567.0 943.3,563.7 945.6,560.4C947.9,557.1 950.1,553.9 952.5,550.6C954.8,547.3 957.1,544.1 959.4,540.9C961.8,537.6 964.1,534.4 966.5,531.3C968.9,528.1 971.4,525.0 973.9,522.0C976.4,518.9 979.0,516.0 981.7,513.0C984.3,510.1 987.0,507.2 989.7,504.3C992.4,501.4 995.2,498.6 998.0,495.8C1000.8,492.9 1003.6,490.1 1006.5,487.3C1009.3,484.6 1012.2,481.8 1015.1,479.0C1018.0,476.3 1021.0,473.6 1023.9,470.9C1026.9,468.1 1029.8,465.4 1032.8,462.6C1035.7,459.9 1038.6,457.1 1041.6,454.4C1044.5,451.6 1047.4,448.8 1050.3,446.0C1053.2,443.3 1056.1,440.5 1059.0,437.8C1062.0,435.1 1064.9,432.5 1067.9,429.9C1070.9,427.2 1074.0,424.6 1077.0,422.1C1080.1,419.5 1083.1,417.0 1086.2,414.5C1089.3,412.0 1092.5,409.6 1095.7,407.2C1098.8,404.8 1102.0,402.4 1105.3,400.1C1108.5,397.8 1111.8,395.5 1115.0,393.2C1118.3,391.0 1121.6,388.7 1124.9,386.5C1128.3,384.3 1131.6,382.2 1135.0,380.0C1138.4,377.9 1141.8,375.9 1145.2,373.8C1148.6,371.8 1152.0,369.8 1155.5,367.8C1159.0,365.8 1162.4,363.9 1165.9,362.0C1169.4,360.1 1172.9,358.3 1176.5,356.6C1180.0,354.8 1183.6,353.1 1187.2,351.5C1190.8,349.8 1194.5,348.3 1198.1,346.8C1201.8,345.2 1205.4,343.7 1209.1,342.3C1212.8,340.9 1216.5,339.5 1220.3,338.3C1224.0,337.0 1227.8,335.8 1231.6,334.6C1235.4,333.5 1239.2,332.5 1243.0,331.5C1246.8,330.5 1250.7,329.5 1254.5,328.6C1258.4,327.7 1262.2,326.9 1266.1,326.2C1270.0,325.5 1273.9,324.8 1277.8,324.2C1281.7,323.6 1285.7,323.1 1289.6,322.6C1293.5,322.1 1297.5,321.7 1301.4,321.3C1305.4,321.0 1309.4,320.6 1313.3,320.4C1317.3,320.1 1321.3,319.9 1325.2,319.8Z" fill="none" stroke="#5c5c5c" stroke-width="7"/></g>
<g filter="url(#b2)"><path d="M1323.1,422.7C1337.3,423.2 1382.4,423.2 1408.5,425.5C1434.5,427.9 1457.8,430.3 1479.6,436.9C1501.4,443.6 1520.9,454.0 1539.4,465.4C1557.9,476.8 1576.8,489.1 1590.6,505.2C1604.3,521.3 1615.0,540.3 1621.9,562.1C1628.8,583.9 1630.7,609.6 1631.8,636.1C1633.0,662.7 1630.7,694.2 1629.0,721.5C1627.3,748.8 1623.7,776.9 1621.9,800.0C1620.1,823.1 1620.3,838.3 1618.0,860.0C1615.7,881.7 1612.7,906.7 1608.0,930.0C1603.3,953.3 1593.0,988.3 1590.0,1000.0" fill="none" stroke="#363636" stroke-width="7" stroke-linecap="round" />
<path d="M1617.0,720.0C1617.0,731.7 1617.5,766.7 1617.0,790.0C1616.5,813.3 1614.5,848.3 1614.0,860.0" fill="none" stroke="#484848" stroke-width="8" stroke-linecap="round" />
<path d="M1300.0,407.3C1284.4,409.4 1232.8,412.7 1206.4,420.3C1179.9,427.9 1161.4,439.8 1141.4,452.8C1121.3,465.8 1101.8,482.1 1086.1,498.3C1070.4,514.6 1057.9,531.9 1047.1,550.3C1036.2,568.7 1027.6,588.3 1021.1,608.8C1014.6,629.4 1010.2,652.2 1008.1,673.9C1005.9,695.5 1008.1,728.0 1008.1,738.9" fill="none" stroke="#2a2a2a" stroke-width="8" stroke-linecap="round" />
<path d="M1080.0,790.0C1097.5,780.0 1151.7,803.3 1180.0,800.0C1208.3,796.7 1225.0,776.7 1250.0,770.0C1275.0,763.3 1300.0,760.0 1330.0,760.0C1360.0,760.0 1411.7,753.3 1430.0,770.0C1448.3,786.7 1441.7,828.3 1440.0,860.0C1438.3,891.7 1426.7,926.7 1420.0,960.0C1413.3,993.3 1406.7,1031.7 1400.0,1060.0C1393.3,1088.3 1393.3,1115.0 1380.0,1130.0C1366.7,1145.0 1326.7,1171.7 1320.0,1150.0C1313.3,1128.3 1345.0,1041.7 1340.0,1000.0C1335.0,958.3 1313.3,923.3 1290.0,900.0C1266.7,876.7 1228.3,863.3 1200.0,860.0C1171.7,856.7 1140.0,865.0 1120.0,880.0C1100.0,895.0 1087.5,953.3 1080.0,950.0C1072.5,946.7 1075.0,886.7 1075.0,860.0C1075.0,833.3 1062.5,800.0 1080.0,790.0Z" fill="#1a1a1a" /></g>
<g filter="url(#b2)"><path d="M1260.0,421.0C1267.7,424.3 1272.0,438.5 1274.0,450.0C1276.0,461.5 1273.5,478.8 1272.0,490.0C1270.5,501.2 1268.8,507.2 1265.0,517.0C1261.2,526.8 1255.2,538.2 1249.0,549.0C1242.8,559.8 1234.2,570.2 1228.0,582.0C1221.8,593.8 1216.5,609.0 1212.0,620.0C1207.5,631.0 1201.3,635.8 1201.0,648.0C1200.7,660.2 1204.8,678.5 1210.0,693.0C1215.2,707.5 1229.8,725.2 1232.0,735.0C1234.2,744.8 1230.0,746.5 1223.5,752.0C1217.0,757.5 1203.2,762.8 1193.0,768.0C1182.8,773.2 1177.8,780.8 1162.6,783.0C1147.4,785.2 1118.5,783.7 1101.6,781.0C1084.7,778.3 1072.9,772.8 1061.0,767.0C1049.1,761.2 1036.3,754.7 1030.0,746.0C1023.7,737.3 1024.3,726.0 1023.0,715.0C1021.7,704.0 1021.8,696.5 1022.0,680.0C1022.2,663.5 1021.8,631.0 1024.0,616.0C1026.2,601.0 1030.0,597.5 1035.0,590.0C1040.0,582.5 1047.2,579.6 1054.0,571.0C1060.8,562.4 1066.9,549.3 1076.0,538.5C1085.1,527.7 1095.8,516.9 1108.4,506.0C1121.0,495.1 1137.3,483.2 1151.7,473.4C1166.1,463.6 1182.3,454.6 1195.0,447.4C1207.7,440.2 1216.8,434.4 1227.6,430.0C1238.4,425.6 1252.3,417.7 1260.0,421.0Z" fill="#585858" />
<path d="M1285.0,420.0C1292.8,411.2 1314.2,416.8 1330.0,417.0C1345.8,417.2 1364.4,419.2 1380.0,421.4C1395.6,423.6 1409.0,424.9 1423.4,430.0C1437.9,435.1 1452.3,442.3 1466.7,451.7C1481.1,461.1 1497.3,475.5 1510.0,486.4C1522.7,497.2 1533.6,506.4 1542.6,516.8C1551.6,527.2 1564.4,541.8 1564.0,549.0C1563.6,556.2 1550.5,561.8 1540.0,560.0C1529.5,558.2 1510.3,545.2 1501.0,538.0C1491.7,530.8 1491.5,524.2 1484.0,517.0C1476.5,509.8 1466.2,500.5 1456.0,495.0C1445.8,489.5 1435.7,485.5 1423.0,484.0C1410.3,482.5 1393.8,485.3 1380.0,486.0C1366.2,486.7 1353.3,486.0 1340.0,488.0C1326.7,490.0 1309.5,501.0 1300.0,498.0C1290.5,495.0 1285.5,483.0 1283.0,470.0C1280.5,457.0 1277.2,428.8 1285.0,420.0Z" fill="#585858" />
<ellipse cx="1305.0" cy="462.0" rx="22" ry="36" fill="#4e4e4e" transform="rotate(10 1305.0 462.0)" />
<path d="M1397.1,431.2C1414.1,430.7 1444.5,438.8 1465.4,448.3C1486.2,457.8 1505.7,473.0 1522.3,488.1C1538.9,503.3 1554.5,519.4 1565.0,539.4C1575.4,559.3 1578.7,586.8 1584.9,607.7C1591.1,628.5 1597.2,645.6 1602.0,664.6C1606.7,683.5 1611.0,704.9 1613.4,721.5C1615.7,738.1 1621.9,754.7 1616.2,764.2C1610.5,773.7 1594.9,777.0 1579.2,778.4C1563.6,779.8 1538.9,777.5 1522.3,772.7C1505.7,768.0 1484.3,760.9 1479.6,749.9C1474.9,739.0 1490.5,726.2 1493.8,707.3C1497.2,688.3 1499.5,657.5 1499.5,636.1C1499.5,614.8 1497.2,595.3 1493.8,579.2C1490.5,563.1 1486.7,551.7 1479.6,539.4C1472.5,527.0 1463.0,515.6 1451.1,505.2C1439.3,494.8 1420.3,482.4 1408.5,476.8C1396.6,471.1 1387.6,475.3 1380.0,471.1C1372.4,466.8 1360.1,457.8 1362.9,451.1C1365.8,444.5 1380.0,431.7 1397.1,431.2Z" fill="#545454" />
<path d="M1473.9,735.7C1483.4,731.0 1504.7,730.0 1522.3,730.0C1539.8,730.0 1564.0,732.4 1579.2,735.7C1594.4,739.0 1608.6,741.9 1613.4,749.9C1618.1,758.0 1618.1,777.5 1607.7,784.1C1597.2,790.7 1569.7,790.7 1550.7,789.8C1531.8,788.8 1508.1,783.6 1493.8,778.4C1479.6,773.2 1468.7,765.6 1465.4,758.5C1462.1,751.4 1464.4,740.5 1473.9,735.7Z" fill="#4e4e4e" />
<path d="M1113.8,923.5C1120.5,914.0 1130.7,893.1 1142.2,882.9C1153.8,872.7 1169.3,866.3 1182.9,862.6C1196.4,858.8 1210.0,858.8 1223.5,860.5C1237.1,862.2 1250.6,866.3 1264.2,872.7C1277.7,879.2 1293.0,890.7 1304.8,899.1C1316.7,907.6 1326.8,916.1 1335.3,923.5C1343.8,931.0 1351.7,928.1 1355.6,943.9C1359.5,959.6 1361.5,997.2 1358.7,1018.3C1356.0,1039.4 1349.0,1055.2 1339.2,1070.3C1329.5,1085.5 1315.4,1098.5 1300.2,1109.4C1285.1,1120.2 1265.5,1131.6 1248.2,1135.4C1230.9,1139.2 1213.5,1137.0 1196.2,1132.1C1178.8,1127.2 1158.2,1118.6 1144.2,1106.1C1130.1,1093.6 1119.8,1076.3 1111.6,1057.3C1103.5,1038.4 1097.0,1011.8 1095.4,992.3C1093.8,972.8 1098.8,951.7 1101.9,940.3C1105.0,928.8 1107.1,933.1 1113.8,923.5Z" fill="#5c5c5c" />
<ellipse cx="1261.0" cy="1131.0" rx="33" ry="24" fill="#585858" transform="rotate(-10 1261.0 1131.0)" />
<path d="M1027.6,823.4C1036.2,822.9 1046.5,829.6 1053.6,838.0C1060.6,846.4 1066.3,861.3 1069.8,873.8C1073.4,886.2 1074.2,901.4 1074.7,912.8C1075.2,924.2 1076.1,932.3 1073.1,942.1C1070.1,951.8 1064.4,962.6 1056.8,971.3C1049.2,980.0 1035.2,985.9 1027.6,994.1C1020.0,1002.2 1015.6,1013.3 1011.3,1020.1C1007.0,1026.9 1005.4,1035.8 1001.6,1034.7C997.8,1033.6 992.9,1022.5 988.6,1013.6C984.2,1004.6 978.5,991.9 975.6,981.1C972.6,970.2 970.7,960.5 970.7,948.6C970.7,936.6 973.1,922.0 975.6,909.5C978.0,897.1 981.0,885.2 985.3,873.8C989.6,862.4 994.5,849.7 1001.6,841.3C1008.6,832.9 1018.9,823.9 1027.6,823.4Z" fill="#545454" />
<path d="M1024.3,1020.1C1025.7,1012.5 1031.4,1007.3 1037.3,1003.8C1043.3,1000.3 1053.0,997.9 1060.1,998.9C1067.1,1000.0 1074.4,1004.1 1079.6,1010.3C1084.7,1016.6 1088.8,1027.1 1091.0,1036.3C1093.1,1045.5 1093.9,1057.2 1092.6,1065.6C1091.2,1074.0 1087.7,1083.5 1082.8,1086.7C1078.0,1090.0 1069.8,1087.5 1063.3,1085.1C1056.8,1082.7 1049.5,1078.1 1043.8,1072.1C1038.1,1066.1 1032.4,1058.0 1029.2,1049.3C1025.9,1040.7 1023.0,1027.7 1024.3,1020.1Z" fill="#585858" />
<path d="M1510.1,774.6C1520.9,775.2 1531.8,777.6 1542.6,782.8C1553.4,787.9 1567.0,793.1 1575.1,805.5C1583.2,818.0 1588.9,838.0 1591.4,857.5C1593.8,877.0 1593.0,900.9 1589.7,922.5C1586.5,944.2 1579.2,968.6 1571.8,987.6C1564.5,1006.5 1556.1,1021.2 1545.8,1036.3C1535.5,1051.5 1523.6,1066.1 1510.1,1078.6C1496.5,1091.1 1478.7,1105.0 1464.6,1111.1C1450.5,1117.2 1434.8,1118.8 1425.6,1115.0C1416.3,1111.2 1410.4,1100.9 1409.3,1088.3C1408.2,1075.8 1413.1,1055.8 1419.1,1039.6C1425.0,1023.3 1441.0,1007.1 1445.1,990.8C1449.1,974.6 1445.6,958.9 1443.4,942.1C1441.3,925.3 1433.4,906.8 1432.1,890.0C1430.7,873.2 1432.1,855.9 1435.3,841.3C1438.6,826.6 1444.5,812.6 1451.6,802.3C1458.6,792.0 1467.8,784.1 1477.6,779.5C1487.3,774.9 1499.2,774.1 1510.1,774.6Z" fill="#5c5c5c" /></g>
<g filter="url(#b2)"><path d="M1490.6,808.8C1489.5,816.9 1483.0,841.3 1484.1,857.5C1485.2,873.8 1496.0,892.2 1497.1,906.3C1498.2,920.4 1491.7,936.1 1490.6,942.1" fill="none" stroke="#3a3a3a" stroke-width="7" stroke-linecap="round" />
<path d="M1542.6,942.1C1537.2,947.5 1524.2,965.9 1510.1,974.6C1496.0,983.2 1466.7,990.8 1458.1,994.1" fill="none" stroke="#3c3c3c" stroke-width="7" stroke-linecap="round" />
<path d="M1008.1,922.5C1009.1,924.7 1013.5,933.4 1014.6,935.6" fill="none" stroke="#333" stroke-width="10" stroke-linecap="round" />
<path d="M1539.4,499.5C1543.2,509.0 1556.4,536.0 1562.1,556.4C1567.8,576.8 1569.7,601.5 1573.5,621.9C1577.3,642.3 1583.0,669.3 1584.9,678.8" fill="none" stroke="#333333" stroke-width="8" stroke-linecap="round" />
<path d="M1499.5,664.6C1504.3,669.3 1521.3,681.2 1528.0,693.0C1534.6,704.9 1537.5,728.6 1539.4,735.7" fill="none" stroke="#363636" stroke-width="7" stroke-linecap="round" /></g>
<g filter="url(#b2)"><path d="M1325.1,801.6C1333.6,797.5 1347.2,801.6 1355.6,805.7C1364.1,809.7 1372.2,817.9 1375.9,826.0C1379.7,834.1 1380.3,847.0 1378.0,854.4C1375.6,861.9 1367.1,866.0 1361.7,870.7C1356.3,875.4 1350.9,880.2 1345.5,882.9C1340.0,885.6 1335.3,888.3 1329.2,887.0C1323.1,885.6 1314.6,880.2 1308.9,874.8C1303.1,869.3 1298.0,860.5 1294.7,854.4C1291.3,848.3 1286.9,842.2 1288.6,838.2C1290.3,834.1 1298.7,836.2 1304.8,830.1C1310.9,824.0 1316.7,805.7 1325.1,801.6Z" fill="#5a5a5a" />
<ellipse cx="1272.0" cy="818.0" rx="12" ry="13" fill="#444444" transform="rotate(0 1272.0 818.0)" />
<ellipse cx="941.4" cy="951.0" rx="11" ry="15" fill="#6a6a6a" transform="rotate(0 941.4 951.0)" />
<ellipse cx="1064.0" cy="813.0" rx="6.5" ry="9.5" fill="#7c7c7c" transform="rotate(25 1064.0 813.0)" />
<ellipse cx="1111.0" cy="795.0" rx="20" ry="7.5" fill="#6c6c6c" transform="rotate(20 1111.0 795.0)" />
<ellipse cx="1387.0" cy="985.0" rx="8" ry="13" fill="#5c5c5c" transform="rotate(-10 1387.0 985.0)" />
<ellipse cx="1359.0" cy="1119.0" rx="7" ry="13" fill="#5e5e5e" transform="rotate(8 1359.0 1119.0)" />
<ellipse cx="1410.0" cy="925.0" rx="7" ry="9" fill="#3c3c3c" transform="rotate(0 1410.0 925.0)" />
<ellipse cx="880.0" cy="875.0" rx="7" ry="7" fill="#3a3a3a" transform="rotate(0 880.0 875.0)" />
<ellipse cx="1005.0" cy="800.0" rx="14" ry="5" fill="#383838" transform="rotate(5 1005.0 800.0)" /></g>
</g>
<path d="M1216.6,632.3C1216.3,622.8 1217.5,612.3 1220.3,603.8C1223.1,595.2 1227.9,588.0 1233.6,581.0C1239.3,574.0 1246.6,567.7 1254.5,562.0C1262.4,556.3 1271.2,551.1 1281.0,546.9C1290.8,542.6 1301.6,538.9 1313.3,536.5C1325.0,534.1 1338.5,532.7 1351.2,532.7C1363.9,532.7 1377.5,534.1 1389.2,536.5C1400.9,538.9 1411.6,542.0 1421.4,546.9C1431.2,551.8 1440.7,558.9 1448.0,565.9C1455.3,572.9 1460.3,579.8 1465.0,588.6C1469.7,597.5 1473.9,608.6 1476.4,619.0C1478.9,629.4 1479.9,640.5 1480.2,651.2C1480.5,662.0 1479.6,674.0 1478.3,683.5C1477.0,693.0 1475.1,700.8 1472.6,708.0C1470.0,715.2 1466.8,722.2 1463.0,727.0C1459.2,731.8 1455.9,734.7 1449.9,736.6C1443.9,738.5 1437.1,738.8 1427.0,738.5C1416.9,738.2 1403.4,736.6 1389.2,734.7C1375.0,732.8 1355.9,729.9 1341.7,727.0C1327.5,724.1 1316.4,721.7 1303.8,717.6C1291.2,713.5 1277.0,708.1 1265.9,702.4C1254.8,696.7 1244.7,690.5 1237.4,683.5C1230.1,676.5 1225.7,669.2 1222.2,660.7C1218.7,652.2 1216.9,641.8 1216.6,632.3Z" fill="#0e0e0e" stroke="#0e0e0e" stroke-width="10" stroke-linejoin="round" filter="url(#b2)"/>
<path d="M1345.0,507.0C1351.7,502.5 1374.2,499.0 1390.0,499.0C1405.8,499.0 1425.7,501.8 1440.0,507.0C1454.3,512.2 1467.0,521.2 1476.0,530.0C1485.0,538.8 1490.3,548.3 1494.0,560.0C1497.7,571.7 1498.7,589.2 1498.0,600.0C1497.3,610.8 1493.3,625.0 1490.0,625.0C1486.7,625.0 1482.7,608.3 1478.0,600.0C1473.3,591.7 1470.0,583.7 1462.0,575.0C1454.0,566.3 1442.0,555.5 1430.0,548.0C1418.0,540.5 1403.3,533.7 1390.0,530.0C1376.7,526.3 1357.5,529.8 1350.0,526.0C1342.5,522.2 1338.3,511.5 1345.0,507.0Z" fill="#050505" filter="url(#b3)"/>
<ellipse cx="1462" cy="736" rx="10" ry="8" fill="#000" filter="url(#b2)"/>
<path d="M1216.6,632.3C1216.3,622.8 1217.5,612.3 1220.3,603.8C1223.1,595.2 1227.9,588.0 1233.6,581.0C1239.3,574.0 1246.6,567.7 1254.5,562.0C1262.4,556.3 1271.2,551.1 1281.0,546.9C1290.8,542.6 1301.6,538.9 1313.3,536.5C1325.0,534.1 1338.5,532.7 1351.2,532.7C1363.9,532.7 1377.5,534.1 1389.2,536.5C1400.9,538.9 1411.6,542.0 1421.4,546.9C1431.2,551.8 1440.7,558.9 1448.0,565.9C1455.3,572.9 1460.3,579.8 1465.0,588.6C1469.7,597.5 1473.9,608.6 1476.4,619.0C1478.9,629.4 1479.9,640.5 1480.2,651.2C1480.5,662.0 1479.6,674.0 1478.3,683.5C1477.0,693.0 1475.1,700.8 1472.6,708.0C1470.0,715.2 1466.8,722.2 1463.0,727.0C1459.2,731.8 1455.9,734.7 1449.9,736.6C1443.9,738.5 1437.1,738.8 1427.0,738.5C1416.9,738.2 1403.4,736.6 1389.2,734.7C1375.0,732.8 1355.9,729.9 1341.7,727.0C1327.5,724.1 1316.4,721.7 1303.8,717.6C1291.2,713.5 1277.0,708.1 1265.9,702.4C1254.8,696.7 1244.7,690.5 1237.4,683.5C1230.1,676.5 1225.7,669.2 1222.2,660.7C1218.7,652.2 1216.9,641.8 1216.6,632.3Z" fill="#ffffff" filter="url(#b1)"/>
<g filter="url(#tex2)"><path d="M1252.6,632.3C1252.3,624.4 1255.6,614.9 1260.0,607.6C1264.4,600.3 1271.1,593.4 1279.0,588.6C1286.9,583.8 1297.1,581.2 1307.6,579.0C1318.0,576.8 1331.3,576.3 1341.7,575.4C1352.1,574.5 1360.5,572.9 1370.0,573.5C1379.5,574.1 1389.1,575.2 1398.6,579.0C1408.1,582.8 1419.4,588.7 1427.0,596.0C1434.6,603.3 1440.5,613.6 1444.0,622.8C1447.5,632.0 1448.0,641.7 1448.0,651.2C1448.0,660.7 1446.2,671.8 1444.0,679.7C1441.8,687.6 1439.7,694.2 1434.7,698.6C1429.7,703.0 1422.3,705.9 1413.8,706.2C1405.3,706.5 1393.9,703.4 1383.5,700.5C1373.1,697.6 1362.9,692.5 1351.2,689.0C1339.5,685.5 1325.0,682.9 1313.3,679.7C1301.6,676.5 1289.5,674.1 1281.0,670.0C1272.5,665.9 1266.7,661.3 1262.0,655.0C1257.3,648.7 1252.9,640.2 1252.6,632.3Z" fill="#8c8c8c" filter="url(#b3)"/>
<path d="M1284.0,640.0C1282.0,630.3 1286.0,614.7 1292.0,606.0C1298.0,597.3 1308.7,591.7 1320.0,588.0C1331.3,584.3 1347.0,583.3 1360.0,584.0C1373.0,584.7 1388.0,586.3 1398.0,592.0C1408.0,597.7 1415.7,608.3 1420.0,618.0C1424.3,627.7 1426.5,640.7 1424.0,650.0C1421.5,659.3 1413.2,668.3 1405.0,674.0C1396.8,679.7 1385.8,683.7 1375.0,684.0C1364.2,684.3 1351.8,679.3 1340.0,676.0C1328.2,672.7 1313.3,670.0 1304.0,664.0C1294.7,658.0 1286.0,649.7 1284.0,640.0Z" fill="#454545" filter="url(#b3)"/></g>
<g filter="url(#b2)"><ellipse cx="1301.0" cy="812.0" rx="20" ry="21" fill="#b8b8b8" transform="rotate(0 1301.0 812.0)" /></g>
</g>
<g fill="none" stroke-linecap="round" stroke-linejoin="round">
<path d="M927,114L945,119" stroke="#1a76ab" stroke-width="4.2"/>
<path d="M945,119L1349,499" stroke="#4384cb" stroke-width="3.4"/>
<path d="M840,208L861,209" stroke="#1a76ab" stroke-width="4.2"/>
<path d="M861,209L1182.5,533" stroke="#4384cb" stroke-width="3.4"/>
<path d="M768.6,316L787.5,313.4" stroke="#1a76ab" stroke-width="4.2"/>
<path d="M787.5,313.4L1290.5,800.5" stroke="#4384cb" stroke-width="3.4"/>
<path d="M717,426L733,422" stroke="#1a76ab" stroke-width="4.2"/>
<path d="M733,422L1166,774.5" stroke="#4384cb" stroke-width="3.4"/>
<path d="M680.4,539L694,533" stroke="#1a76ab" stroke-width="4.2"/>
<path d="M694,533L1051.5,761.8" stroke="#4384cb" stroke-width="3.4"/>
<path d="M659.4,653.6L672,644.7" stroke="#1a76ab" stroke-width="4.2"/>
<path d="M672,644.7L1042,779" stroke="#4384cb" stroke-width="3.4"/>
<path d="M652,804.4L664.1,796.5" stroke="#1a76ab" stroke-width="4.2"/>
<path d="M664.1,796.5L1030,898" stroke="#4384cb" stroke-width="3.4"/>
<path d="M670.4,929.8L679.9,919.8" stroke="#1a76ab" stroke-width="4.2"/>
<path d="M679.9,919.8L947.6,942.8" stroke="#4384cb" stroke-width="3.4"/>
<path d="M703,1046.2L709.8,1035.7" stroke="#1a76ab" stroke-width="4.2"/>
<path d="M709.8,1035.7L1075.6,951" stroke="#4384cb" stroke-width="3.4"/>
<path d="M752.3,1167.4L759.6,1153.8" stroke="#1a76ab" stroke-width="4.2"/>
<path d="M759.6,1153.8L1066.6,1036.4" stroke="#4384cb" stroke-width="3.4"/>
<path d="M814.7,1269.7L820,1254.5" stroke="#1a76ab" stroke-width="4.2"/>
<path d="M820,1254.5L1225.7,1013.4" stroke="#4384cb" stroke-width="3.4"/>
<path d="M918,1393L923.3,1380.9" stroke="#1a76ab" stroke-width="4.2"/>
<path d="M923.3,1380.9L1226.6,1143.2" stroke="#4384cb" stroke-width="3.4"/>
<path d="M1798.7,203.7L1779.8,201" stroke="#1a76ab" stroke-width="4.2"/>
<path d="M1779.8,201L1400.8,432.2" stroke="#4384cb" stroke-width="3.4"/>
<path d="M1856.4,289.8L1839,285.6" stroke="#1a76ab" stroke-width="4.2"/>
<path d="M1839,285.6L1397.4,466" stroke="#4384cb" stroke-width="3.4"/>
<path d="M1904.7,379L1888,372.7" stroke="#1a76ab" stroke-width="4.2"/>
<path d="M1888,372.7L1435.4,525" stroke="#4384cb" stroke-width="3.4"/>
<path d="M1944,471.4L1927.3,463" stroke="#1a76ab" stroke-width="4.2"/>
<path d="M1927.3,463L1536.8,575.8" stroke="#4384cb" stroke-width="3.4"/>
<path d="M1969.3,564.4L1955,556.5" stroke="#1a76ab" stroke-width="4.2"/>
<path d="M1955,556.5L1394.4,667" stroke="#4384cb" stroke-width="3.4"/>
<path d="M1974,620L1953.6,610" stroke="#1a76ab" stroke-width="3.0"/>
<path d="M1953.6,610L1523.4,685" stroke="#4384cb" stroke-width="1.5"/>
<path d="M1989.8,667.8L1975,660" stroke="#1a76ab" stroke-width="4.2"/>
<path d="M1975,660L1508.6,740.1" stroke="#4384cb" stroke-width="3.4"/>
<path d="M1994.6,778.4L1982.2,769.8" stroke="#1a76ab" stroke-width="4.2"/>
<path d="M1982.2,769.8L1614.4,787.6" stroke="#4384cb" stroke-width="3.4"/>
<path d="M1987.7,870L1974.6,860.6" stroke="#1a76ab" stroke-width="4.2"/>
<path d="M1974.6,860.6L1354.4,829.6" stroke="#4384cb" stroke-width="3.4"/>
<path d="M1970.4,963L1957.8,952" stroke="#1a76ab" stroke-width="4.2"/>
<path d="M1957.8,952L1527.2,880.2" stroke="#4384cb" stroke-width="3.4"/>
<path d="M1948.3,1043.8L1936.2,1031.2" stroke="#1a76ab" stroke-width="4.2"/>
<path d="M1936.2,1031.2L1417.4,929.6" stroke="#4384cb" stroke-width="3.4"/>
<path d="M1912,1131L1903.7,1119.4" stroke="#1a76ab" stroke-width="4.2"/>
<path d="M1903.7,1119.4L1356.1,946.2" stroke="#4384cb" stroke-width="3.4"/>
<path d="M1868,1218.6L1858.5,1203.9" stroke="#1a76ab" stroke-width="4.2"/>
<path d="M1858.5,1203.9L1502.4,1019.3" stroke="#4384cb" stroke-width="3.4"/>
<path d="M1808.7,1299.5L1803.4,1285.3" stroke="#1a76ab" stroke-width="4.2"/>
<path d="M1803.4,1285.3L1386.8,974.8" stroke="#4384cb" stroke-width="3.4"/>
<path d="M1726.8,1396L1719.4,1381.4" stroke="#1a76ab" stroke-width="4.2"/>
<path d="M1719.4,1381.4L1356.1,1117" stroke="#4384cb" stroke-width="3.4"/>
<path d="M1608,1489L1603,1472.7" stroke="#1a76ab" stroke-width="4.2"/>
<path d="M1603,1472.7L1275.5,1135.4" stroke="#4384cb" stroke-width="3.4"/>
<path d="M1110.1,789.4L1051.5,761.8L1068.6,797.2" stroke="#4384cb" stroke-width="3.4"/>
</g>
<g font-size="38.4">
<text x="918" y="120" text-anchor="end">Articularis genus muscle</text>
<text x="831.5" y="214.8" text-anchor="end">Vastus medialis muscle</text>
<text x="763.1" y="324.8" text-anchor="end">Popliteal artery</text>
<text x="710" y="440" text-anchor="end">Distal adductor magnus tendon</text>
<text x="676.4" y="546" text-anchor="end">Descending genicular artery</text>
<text x="652.8" y="666.3" text-anchor="end" font-size="36.8">Saphenous nerve (infrapatellar branch)</text>
<text x="645.5" y="817" text-anchor="end">Sartorius muscle</text>
<text x="663" y="944.4" text-anchor="end">Great saphenous vein</text>
<text x="699.8" y="1069.5" text-anchor="end">Saphenous nerve</text>
<text x="750.3" y="1190.6" text-anchor="end">Gracilis muscle</text>
<text x="817.3" y="1298.8" text-anchor="end">Semimembranosus muscle</text>
<text x="917.9" y="1419.7" text-anchor="end">Distal semitendinosus tendon</text>
<text x="1806" y="217.3" text-anchor="start">Distal rectus femoris tendon</text>
<text x="1863.8" y="303.4" text-anchor="start">Distal vastus intermedius tendon</text>
<text x="1912.3" y="392.3" text-anchor="start">Prefemoral fat pad</text>
<text x="1950" y="481.2" text-anchor="start">Vastus lateralis muscle</text>
<text x="1975.5" y="577" text-anchor="start">Body of femur</text>
<text x="1982" y="628.8" text-anchor="start">Vastus intermedius muscle</text>
<text x="1994.6" y="684.2" text-anchor="start">Distal vastus intermedius tendon</text>
<text x="2002.4" y="794.5" text-anchor="start">Iliotibial tract</text>
<text x="1992.5" y="884.7" text-anchor="start">Popliteal vein</text>
<text x="1977.2" y="981.8" text-anchor="start">Short head of biceps femoris muscle</text>
<text x="1957.5" y="1070" text-anchor="start">Common fibular nerve</text>
<text x="1917.4" y="1147.7" text-anchor="start">Muscular branches of popliteal artery</text>
<text x="1872.2" y="1231" text-anchor="start">Long head of biceps femoris muscle</text>
<text x="1810.9" y="1309.2" text-anchor="start">Tibial nerve</text>
<text x="1721" y="1429.4" text-anchor="start">Small saphenous vein</text>
<text x="1603" y="1525.5" text-anchor="start">Semitendinosus muscle</text>
</g>
</svg>
</body></html>
